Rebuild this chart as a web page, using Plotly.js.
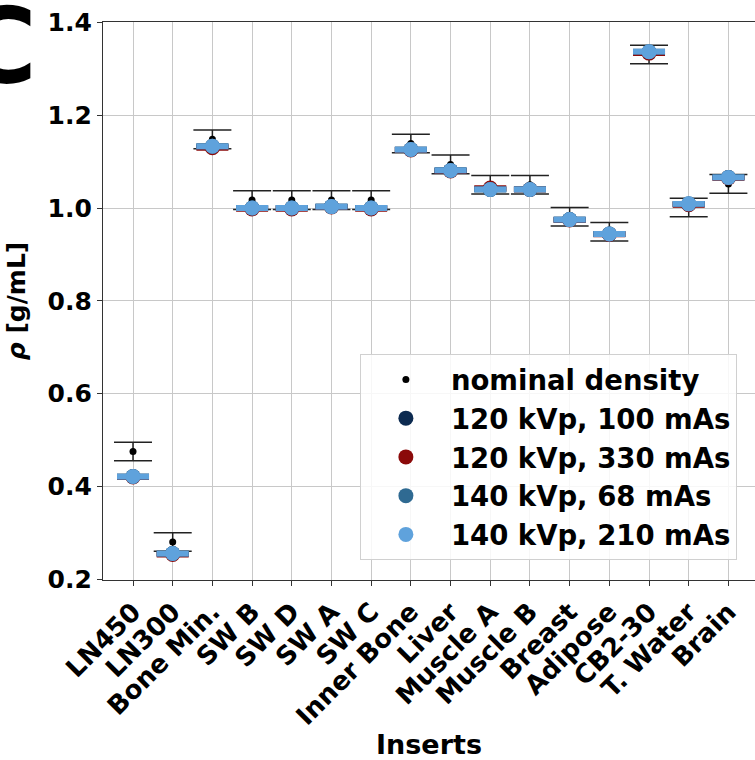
<!DOCTYPE html>
<html>
<head>
<meta charset="utf-8">
<script src="https://cdn.plot.ly/plotly-3.0.1.min.js"></script>
<style>html,body{margin:0;padding:0;background:#fff;} #chart{width:755px;height:760px;}</style>
</head>
<body>
<div id="chart"></div>
<script>
var categories = ["LN450","LN300","Bone Min.","SW B","SW D","SW A","SW C","Inner Bone","Liver","Muscle A","Muscle B","Breast","Adipose","CB2-30","T. Water","Brain"];
var nominal    = [0.475, 0.280, 1.148, 1.017, 1.017, 1.017, 1.017, 1.139, 1.094, 1.050, 1.050, 0.981, 0.949, 1.331, 1.001, 1.052];
var nominalErr = [0.020, 0.020, 0.020, 0.020, 0.020, 0.020, 0.020, 0.020, 0.020, 0.020, 0.020, 0.020, 0.020, 0.020, 0.020, 0.020];
var kv120_100  = [0.421, 0.255, 1.133, 1.000, 1.000, 1.003, 1.000, 1.126, 1.081, 1.040, 1.040, 0.975, 0.944, 1.336, 1.008, 1.066];
var kv120_330  = [0.420, 0.253, 1.130, 0.998, 0.998, 1.002, 0.998, 1.125, 1.080, 1.043, 1.040, 0.974, 0.943, 1.334, 1.007, 1.065];
var kv140_68   = [0.421, 0.255, 1.133, 1.000, 1.000, 1.003, 1.000, 1.126, 1.081, 1.040, 1.040, 0.975, 0.944, 1.337, 1.009, 1.066];
var kv140_210  = [0.421, 0.255, 1.133, 1.000, 1.000, 1.003, 1.000, 1.126, 1.081, 1.040, 1.040, 0.975, 0.944, 1.337, 1.009, 1.066];
var measErr    = [0.002, 0.002, 0.002, 0.002, 0.002, 0.002, 0.002, 0.002, 0.002, 0.002, 0.002, 0.002, 0.002, 0.002, 0.002, 0.002];
var seriesNames = ["120 kVp, 100 mAs","120 kVp, 330 mAs","140 kVp, 68 mAs","140 kVp, 210 mAs"];
var seriesColors = ["#0c2a50","#8b0a0a","#2f6a92","#5fa2dc"];
var seriesVals = [kv120_100, kv120_330, kv140_68, kv140_210];

var FONT = "DejaVu Sans, Arial, sans-serif";
var idx = categories.map(function(_, i){ return i; });

var traces = [{
  type: "scatter", mode: "markers", name: "nominal density",
  x: idx, y: nominal,
  marker: {color: "#000", size: 7},
  error_y: {type: "data", array: nominalErr, visible: true, color: "#222", thickness: 1.5, width: 19}
}];
for (var s = 0; s < 4; s++) {
  traces.push({
    type: "scatter", mode: "markers", name: seriesNames[s],
    x: idx, y: seriesVals[s],
    marker: {color: seriesColors[s], size: 15, line: {color: seriesColors[s], width: 0}},
    error_y: {type: "data", array: measErr, visible: true, color: seriesColors[s], thickness: 4, width: 16}
  });
}

var layout = {
  width: 755, height: 760,
  margin: {l: 103, r: 0, t: 22, b: 180},
  paper_bgcolor: "#fff", plot_bgcolor: "#fff",
  font: {family: FONT, color: "#000"},
  showlegend: true,
  xaxis: {
    range: [-0.756, 15.67],
    tickmode: "array", tickvals: idx, ticktext: categories,
    tickangle: -45,
    tickfont: {family: FONT, size: 26, weight: "bold", color: "#000"},
    showgrid: true, gridcolor: "#c8c8c8", gridwidth: 1,
    showline: true, linecolor: "#333", linewidth: 1.2, mirror: true,
    ticks: "outside", ticklen: 5, tickcolor: "#333",
    zeroline: false,
    title: {text: "<b>Inserts</b>", font: {family: FONT, size: 27, color: "#000"}, standoff: 10}
  },
  yaxis: {
    range: [0.198, 1.401],
    tickmode: "linear", tick0: 0.2, dtick: 0.2, tickformat: ".1f",
    tickfont: {family: FONT, size: 25, weight: "bold", color: "#000"},
    showgrid: true, gridcolor: "#c8c8c8", gridwidth: 1,
    showline: true, linecolor: "#333", linewidth: 1.2, mirror: true,
    ticks: "outside", ticklen: 5, tickcolor: "#333",
    zeroline: false,
    title: {text: "<b><i>ρ</i> [g/mL]</b>", font: {family: FONT, size: 25, color: "#000"}, standoff: 14}
  },
  legend: {
    x: 0.394, y: 0.405, xanchor: "left", yanchor: "top",
    bgcolor: "rgba(255,255,255,0.85)", bordercolor: "#d0d0d0", borderwidth: 1,
    font: {family: FONT, size: 27.5, weight: "bold", color: "#000"},
    itemwidth: 80, tracegroupgap: 0
  },
  annotations: [{
    xref: "paper", yref: "paper", x: -0.098, y: 0.955, xanchor: "right", yanchor: "middle",
    text: "<b>C</b>", showarrow: false, font: {family: FONT, size: 105, color: "#000"}
  }]
};

Plotly.newPlot("chart", traces, layout, {displayModeBar: false, staticPlot: true});
</script>
</body>
</html>
